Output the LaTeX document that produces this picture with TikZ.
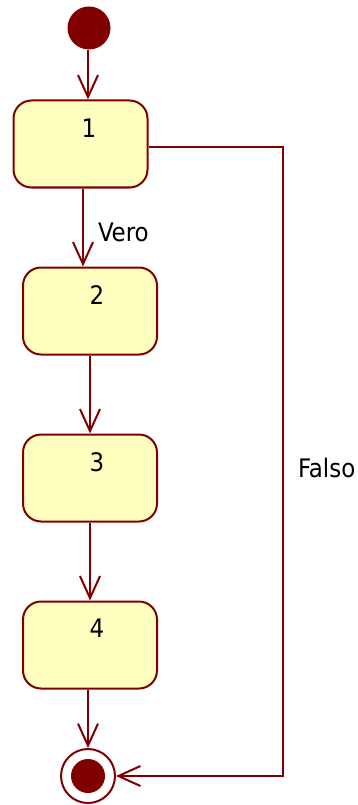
\documentclass[tikz,border=0pt]{standalone}
\usepackage{fontspec}
\setmainfont{DejaVu Sans Condensed}
\usetikzlibrary{arrows.meta}
\definecolor{umlred}{HTML}{800000}
\definecolor{umlfill}{HTML}{FFFFC0}
\tikzset{
  statebox/.style={draw=umlred, fill=umlfill, line width=2pt, rounded corners=18pt,
    minimum width=134pt, minimum height=87pt, inner sep=0pt},
  lbl/.style={font=\fontsize{25.5}{30}\selectfont, inner sep=0pt},
  flow/.style={draw=umlred, line width=2pt, -{Straight Barb[length=22pt,width=20pt,line width=2pt]}},
}
\begin{document}
\begin{tikzpicture}[x=1pt,y=-1pt]
\useasboundingbox (0,0) rectangle (358,805);
\node[circle, fill=umlred, minimum size=43pt, inner sep=0pt] (start) at (89,28) {};
\node[statebox] (b1) at (80.5,144) {};
\node[statebox] (b2) at (90,311) {};
\node[statebox] (b3) at (90,478) {};
\node[statebox] (b4) at (90,645) {};
\node[circle, draw=umlred, line width=2pt, fill=white, minimum size=54pt, inner sep=0pt] (end) at (88,776) {};
\node[circle, fill=umlred, minimum size=34pt, inner sep=0pt] (endin) at (end.center) {};
\node[lbl] (t1) at (89,128) {1};
\node[lbl] (t2) at (97,295) {2};
\node[lbl] (t3) at (97,462) {3};
\node[lbl] (t4) at (97,628) {4};
\draw[flow] (start.south -| 88,0) -- (b1.north -| 88,0);
\draw[flow] (b1.south -| 83,0) -- node[lbl, pos=0.56, right=14pt] (vero) {Vero} (b2.north -| 83,0);
\draw[flow] (b2.south) -- (b3.north);
\draw[flow] (b3.south) -- (b4.north);
\draw[flow] (b4.south -| 88,0) -- (end.north);
\coordinate (c1) at (283,147);
\coordinate (c2) at (283,776);
\draw[flow] (b1.east |- c1) -- (c1) -- node[lbl, pos=0.51, right=14pt] (falso) {Falso} (c2) -- (end.east);
\end{tikzpicture}
\end{document}
